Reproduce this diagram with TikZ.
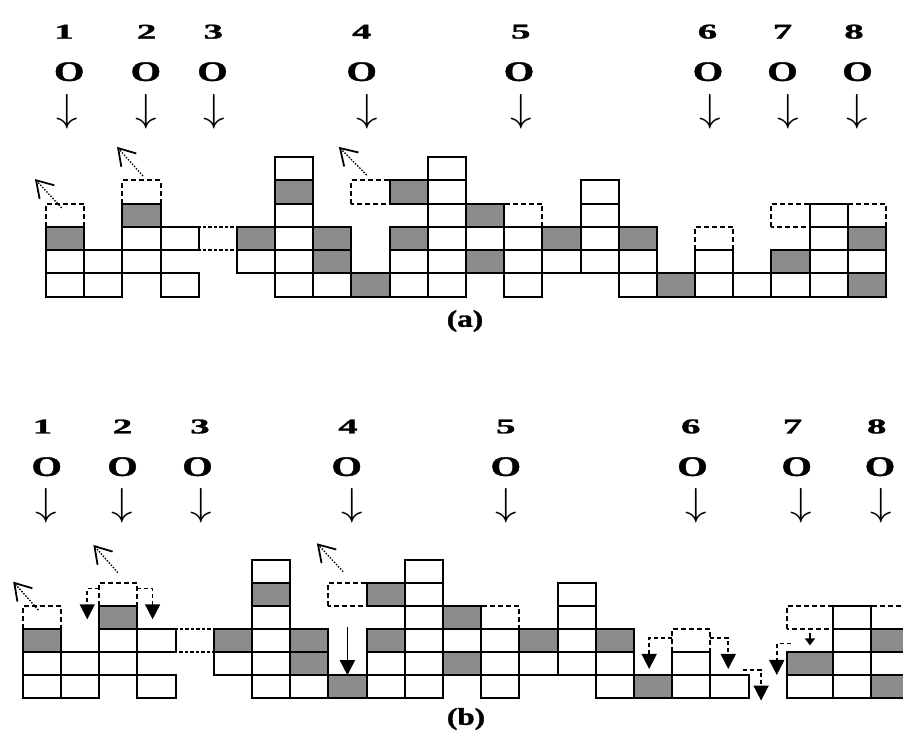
\documentclass[tikz,border=0pt]{standalone}
\usepackage{fontspec}
\setmainfont{Liberation Serif}
\newfontfamily\heavyserif[FakeBold=1.2]{Liberation Serif Bold}
\usetikzlibrary{arrows.meta}
\definecolor{cellgray}{RGB}{140,140,140}
\newcommand\hstretch[2]{\scalebox{#1}[1]{#2}}
\newcommand\bigdown{\scalebox{4.3}[3.9]{$\downarrow$}}
\tikzset{
  wcell/.style={draw=black,fill=white,line width=2pt},
  gcell/.style={draw=black,fill=cellgray,line width=2pt},
  dbox/.style={draw=black,line width=2pt,dash pattern=on 5pt off 3pt},
  dconn/.style={draw=black,line width=2pt,dash pattern=on 3.5pt off 2pt},
  mover/.style={draw=black,line width=1.3pt,dash pattern=on 1.5pt off 1.5pt,-{Straight Barb[length=16pt,width=20pt,line width=1.8pt]}},
  hook/.style={draw=black,line width=1.6pt,dash pattern=on 4pt off 3pt,-{Triangle[length=15pt,width=15pt]}},
  droparrow/.style={draw=black,line width=1.6pt,-{Triangle[length=15pt,width=15pt]}},
  smallarrow/.style={draw=black,line width=1.6pt,-{Triangle[length=7pt,width=10pt]}},
  numlab/.style={inner sep=0pt,font=\fontsize{21}{24}\selectfont\heavyserif},
  olab/.style={inner sep=0pt,font=\fontsize{28}{32}\selectfont\heavyserif},
  arrlab/.style={inner sep=0pt},
  captext/.style={inner sep=0pt,font=\fontsize{24}{28}\selectfont\heavyserif},
}
% #1 = column offset of the right group, #2 = extra width of its first column
\newcommand\gridcells[2]{%
  \foreach \c/\r in {0/3,2/4,8/4,12/3,17/2} \draw[dbox] (\c,\r) rectangle ++(1,1);
  \draw[dbox] ({19+#1},3) rectangle ({20+#1+#2},4);
  \draw[dbox] ({21+#1+#2},3) rectangle ++(1,1);
  \draw[dconn] (4,2) rectangle ++(1,1);
  \foreach \c/\r in {0/0,0/1,1/0,1/1,2/1,2/2,3/0,3/2,5/1,6/0,6/1,6/2,6/3,6/5,7/0,9/0,9/1,10/0,10/1,10/2,10/3,10/4,10/5,11/2,12/0,12/1,12/2,13/1,14/1,14/2,14/3,14/4,15/0,15/1,17/0,17/1,18/0}
    \draw[wcell] (\c,\r) rectangle ++(1,1);
  \foreach \c/\r in {0/2,2/3,5/2,6/4,7/1,7/2,8/0,9/2,9/4,11/1,11/3,13/2,15/2,16/0}
    \draw[gcell] (\c,\r) rectangle ++(1,1);
  \draw[wcell] ({19+#1},0) rectangle ({20+#1+#2},1);
  \draw[gcell] ({19+#1},1) rectangle ({20+#1+#2},2);
  \foreach \r in {0,1,2,3} \draw[wcell] ({20+#1+#2},\r) rectangle ++(1,1);
  \draw[gcell] ({21+#1+#2},0) rectangle ++(1,1);
  \draw[wcell] ({21+#1+#2},1) rectangle ++(1,1);
  \draw[gcell] ({21+#1+#2},2) rectangle ++(1,1);
  \draw[wcell] (4,1) -- (3,1) -- (3,2) -- (4,2);
}
\begin{document}
\begin{tikzpicture}[x=1pt,y=-1pt]
\useasboundingbox (0,0) rectangle (903,740);
% ---------- labels (a)
\foreach \n/\x in {1/64,2/146.7,3/213.3,4/361.7,5/520.8,6/707.5,7/782.5,8/854}
  \node[numlab] (na\n) at (\x,31.7) {\hstretch{1.85}{\n}};
\foreach \n/\x in {1/69.2,2/145.8,3/212.5,4/361.7,5/519,6/708,7/782.5,8/857.5}
  \node[olab] (oa\n) at (\x,71.7) {\hstretch{1.4}{O}};
\foreach \n/\x in {1/67.5,2/145.8,3/214.2,4/367.5,5/520.8,6/710,7/788,8/857.5}
  \node[arrlab] (da\n) at (\x,111.5) {\bigdown};
% ---------- labels (b)
\foreach \n/\x in {1/42.5,2/122.5,3/200,4/348,5/505.8,6/690.8,7/792.5,8/876.7}
  \node[numlab] (nb\n) at (\x,426.5) {\hstretch{1.85}{\n}};
\foreach \n/\x in {1/46.7,2/122.5,3/197.5,4/346.7,5/505.8,6/692.5,7/796.7,8/880}
  \node[olab] (ob\n) at (\x,466.7) {\hstretch{1.4}{O}};
\foreach \n/\x in {1/45.8,2/122.5,3/200.8,4/352.5,5/505.8,6/695.8,7/801.7,8/880.8}
  \node[arrlab] (db\n) at (\x,506.2) {\bigdown};
% ---------- grid (a)
\begin{scope}[shift={(46,296.7)},x=38.18pt,y=23.3pt]
  \gridcells{0}{0}
  \coordinate (am0s) at (0.41,3.81); \coordinate (am0e) at (-0.29,5.05);
  \coordinate (am2s) at (2.54,5.18); \coordinate (am2e) at (1.86,6.43);
  \coordinate (am8s) at (8.40,5.22); \coordinate (am8e) at (7.67,6.43);
  \draw[mover] (am0s) -- (am0e);
  \draw[mover] (am2s) -- (am2e);
  \draw[mover] (am8s) -- (am8e);
\end{scope}
\node[captext] (capa) at (465,321) {\hstretch{1.3}{(a)}};
% ---------- grid (b)
\begin{scope}[shift={(22.7,698.3)},x=38.2pt,y=23.1pt]
  \gridcells{1}{0.2}
  \coordinate (bm0s) at (0.41,3.82); \coordinate (bm0e) at (-0.25,5.05);
  \coordinate (bm2s) at (2.49,5.44); \coordinate (bm2e) at (1.85,6.64);
  \coordinate (bm8s) at (8.39,5.48); \coordinate (bm8e) at (7.70,6.71);
  \draw[mover] (bm0s) -- (bm0e);
  \draw[mover] (bm2s) -- (bm2e);
  \draw[mover] (bm8s) -- (bm8e);
  % hooks
  \coordinate (h1s) at (2,4.76);     \coordinate (h1e) at (1.69,3.42);
  \coordinate (h2s) at (3,4.76);     \coordinate (h2e) at (3.40,3.42);
  \coordinate (h3s) at (17,2.60);    \coordinate (h3e) at (16.40,1.27);
  \coordinate (h4s) at (18,2.60);    \coordinate (h4e) at (18.47,1.27);
  \coordinate (h5s) at (18.86,1.23); \coordinate (h5e) at (19.33,-0.10);
  \coordinate (h6s) at (20.10,2.38); \coordinate (h6e) at (19.74,1.01);
  \foreach \h in {1,...,6} \draw[hook] (h\h s) -| (h\h e);
  \coordinate (d8s) at (8.5,3.09); \coordinate (d8e) at (8.5,1.0);
  \draw[droparrow] (d8s) -- (d8e);
  \coordinate (d20s) at (20.61,2.81); \coordinate (d20e) at (20.61,2.29);
  \draw[smallarrow] (d20s) -- (d20e);
\end{scope}
\node[captext] (capb) at (466,719) {\hstretch{1.3}{(b)}};
\end{tikzpicture}
\end{document}
